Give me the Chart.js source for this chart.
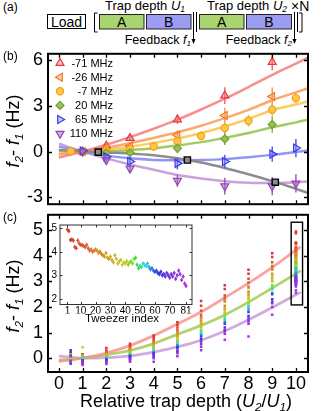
<!DOCTYPE html>
<html><head><meta charset="utf-8">
<script src="https://cdn.jsdelivr.net/npm/chart.js@4/dist/chart.umd.min.js"></script>
<style>
html,body{margin:0;padding:0;background:#fff;}
#wrap{position:relative;width:327px;height:411px;overflow:hidden;font-family:"Liberation Sans",Arial,Helvetica,sans-serif;color:#000;}
canvas{position:absolute;}
.lbl{position:absolute;white-space:nowrap;line-height:1;}
.rot{position:absolute;white-space:nowrap;line-height:1;transform:translate(-50%,-50%) rotate(-90deg);}
sub{font-size:65%;vertical-align:baseline;position:relative;top:0.3em;line-height:0;}
</style></head><body>
<div id="wrap">
<svg width="327" height="50" style="position:absolute;left:0;top:0" font-family="Liberation Sans, Arial, sans-serif">
  <text x="3" y="11" font-size="12">(a)</text>
  <rect x="47.5" y="14.5" width="38" height="14" fill="#fff" stroke="#000" stroke-width="1"/>
  <text x="66.5" y="26.5" font-size="14" text-anchor="middle">Load</text>
  <path d="M97.5 13 H94.5 V32 H97.5" fill="none" stroke="#000" stroke-width="1"/>
  <rect x="99.5" y="14.5" width="44.5" height="14.5" fill="#a9d46f" stroke="#222" stroke-width="1"/>
  <text x="121.7" y="26.5" font-size="14" text-anchor="middle">A</text>
  <rect x="146.5" y="14.5" width="44.5" height="14.5" fill="#9c9cf3" stroke="#222" stroke-width="1"/>
  <text x="168.7" y="26.5" font-size="14" text-anchor="middle">B</text>
  <line x1="193.5" y1="12" x2="193.5" y2="40" stroke="#000" stroke-width="1"/>
  <polygon points="191.5,39 195.5,39 193.5,44" fill="#000"/>
  <line x1="196.5" y1="12" x2="196.5" y2="32" stroke="#000" stroke-width="1"/>
  <rect x="199.5" y="14.5" width="44.5" height="14.5" fill="#a9d46f" stroke="#222" stroke-width="1"/>
  <text x="221.7" y="26.5" font-size="14" text-anchor="middle">A</text>
  <rect x="246.5" y="14.5" width="45" height="14.5" fill="#9c9cf3" stroke="#222" stroke-width="1"/>
  <text x="269" y="26.5" font-size="14" text-anchor="middle">B</text>
  <line x1="294.5" y1="12" x2="294.5" y2="40" stroke="#000" stroke-width="1"/>
  <polygon points="292.5,39 296.5,39 294.5,44" fill="#000"/>
  <line x1="297.5" y1="12" x2="297.5" y2="32" stroke="#000" stroke-width="1"/>
  <path d="M299 13 H302 V32 H299" fill="none" stroke="#000" stroke-width="1"/>
  <text x="145" y="10" font-size="13" text-anchor="middle">Trap depth <tspan font-style="italic">U</tspan><tspan font-size="8.5" dy="2" font-style="italic">1</tspan></text>
  <text x="247" y="10" font-size="13" text-anchor="middle">Trap depth <tspan font-style="italic">U</tspan><tspan font-size="8.5" dy="2" font-style="italic">2</tspan></text>
  <text x="291" y="11" font-size="14">×N</text>
  <text x="191" y="44" font-size="12.5" text-anchor="end">Feedback <tspan font-style="italic">f</tspan><tspan font-size="8" dy="2" font-style="italic">1</tspan></text>
  <text x="292" y="44" font-size="12.5" text-anchor="end">Feedback <tspan font-style="italic">f</tspan><tspan font-size="8" dy="2" font-style="italic">2</tspan></text>
</svg>
<canvas id="chartB" width="327" height="182" style="left:0;top:38px"></canvas>
<canvas id="chartC" width="327" height="212" style="left:0;top:199px"></canvas>
<canvas id="chartI" width="162" height="110" style="left:36px;top:216px"></canvas>
<div class="lbl" style="left:3px;top:50px;font-size:12px">(b)</div>
<div class="lbl" style="left:3px;top:211px;font-size:12px">(c)</div>
<div class="rot" style="left:13px;top:131px;font-size:18px"><i>f</i><sub><i>2</i></sub>- <i>f</i><sub><i>1</i></sub> (Hz)</div>
<div class="rot" style="left:13px;top:296px;font-size:18px"><i>f</i><sub><i>2</i></sub>- <i>f</i><sub><i>1</i></sub> (Hz)</div>
<div class="lbl" style="left:186px;top:392px;transform:translateX(-50%);font-size:18px">Relative trap depth (<i>U</i><sub><i>2</i></sub>/<i>U</i><sub><i>1</i></sub>)</div>
<div class="lbl" style="left:122px;top:313px;transform:translateX(-50%);font-size:11.5px">Tweezer index</div>
</div>
<script>
const FONT = "'Liberation Sans', Arial, Helvetica, sans-serif";

// ---------- Panel (b) data ----------
const bLegend = ['-71 MHz','-26 MHz','-7 MHz','20 MHz','65 MHz','110 MHz'];
const bX_red = [1,2,3,5,7,9];
const bY_red = [0,0.37,0.89,2.11,3.69,5.9];
const bE_red = [0.08,0.15,0.2,0.3,0.55,0.55];
const bX_orange = [1,2,3,5,7,9];
const bY_orange = [0,0.27,0.37,1.08,2.38,3.62];
const bE_orange = [0.08,0.15,0.2,0.3,0.5,0.6];
const bX_yellow = [0.5,1,2,3,4,5,6,7,8,9,10];
const bY_yellow = [0.02,0,0.06,0.17,0.33,0.68,1.03,1.55,2.03,2.75,3.52];
const bE_yellow = [0.08,0.08,0.12,0.15,0.2,0.25,0.3,0.4,0.4,0.4,0.35];
const bX_green = [1,2,3,5,7,9];
const bY_green = [0,-0.08,-0.08,0.21,0.83,1.78];
const bE_green = [0.08,0.15,0.2,0.3,0.4,0.55];
const bX_blue = [1,2,3,5,7,9,10];
const bY_blue = [0.03,-0.35,-0.66,-0.78,-0.66,-0.17,0.23];
const bE_blue = [0.08,0.2,0.3,0.4,0.45,0.5,0.6];
const bX_purple = [1,2,3,5,7,9,10];
const bY_purple = [0,-0.56,-1.12,-1.92,-2.28,-2.28,-2.1];
const bE_purple = [0.08,0.2,0.3,0.4,0.55,0.6,0.6];

const bFitX = [0,1,2,3,4,5,6,7,8,9,10,10.5];
const bFit_red    = [-0.39,0,0.45,0.95,1.5,2.1,2.77,3.48,4.25,5.05,5.8,6.18];
const bFit_orange = [-0.2,0,0.25,0.55,0.9,1.27,1.7,2.2,2.75,3.38,3.9,4.16];
const bFit_yellow = [-0.1,0,0.12,0.32,0.57,0.85,1.22,1.65,2.15,2.72,3.1,3.3];
const bFit_green  = [0,0,0.02,0.1,0.22,0.4,0.62,0.9,1.22,1.6,1.92,2.1];
const bFit_blue   = [0.33,0,-0.27,-0.45,-0.55,-0.58,-0.56,-0.5,-0.38,-0.22,-0.03,0.07];
const bFit_purple = [0.52,0,-0.45,-0.85,-1.2,-1.55,-1.78,-1.95,-2.05,-2.07,-2.02,-1.98];
const bFit_grey   = [0.1,0.02,-0.06,-0.13,-0.25,-0.44,-0.72,-1.08,-1.5,-1.95,-2.45,-2.73];
const bSqX = [1.66,5.42,9.13];
const bSqY = [-0.04,-0.56,-2.02];
const bXTicks = [0,1,2,3,4,5,6,7,8,9,10];
const bYTicks = [-3,0,3,6];

// ---------- Panel (c) data ----------
const cXTicks = [0,1,2,3,4,5,6,7,8,9,10];
const cYTicks = [0,1,2,3,4,5];
// sampled tweezers (index) for columns U2/U1 = 0.5 ... 9
const cSampleIdx = [1,5,9,13,17,21,25,29,33,37,41,45,49,53,57,61,65,69,73,77,81];
const cColX = [0.5,1,2,3,4,5,6,7,8,9];
const cCol_0_5 = [0.2,0.1,0.05,-0.05,0.0,0.1,-0.1,0.05,-0.05,0.0,0.15,-0.1,0.05,-0.15,-0.22,-0.2,0.25,0.31,0.1,-0.1,-0.15];
const cCol_1 = [0.15,0.1,0.05,0.08,0.0,0.05,0.02,-0.02,0.0,0.43,-0.05,0.1,-0.05,0.0,-0.1,-0.08,-0.15,-0.2,-0.1,-0.22,-0.27];
const cCol_2 = [0.4,0.3,0.25,0.22,0.2,0.15,0.15,0.1,0.12,0.08,0.05,0.05,0.02,0.0,-0.02,-0.05,-0.08,-0.1,-0.15,-0.18,-0.23];
const cCol_3 = [0.56,0.5,0.45,0.4,0.35,0.35,0.3,0.25,0.28,0.22,0.2,0.18,0.12,0.15,0.1,0.08,0.05,0.0,-0.03,-0.08,-0.14];
const cCol_4 = [0.88,0.8,0.72,0.65,0.6,0.58,0.5,0.45,0.48,0.4,0.38,0.33,0.28,0.3,0.22,0.2,0.15,0.1,0.05,0.0,-0.14];
const cCol_5 = [1.4,1.3,1.2,1.1,1.05,1.0,0.9,0.85,0.85,0.75,0.7,0.65,0.55,0.6,0.5,0.45,0.4,0.3,0.25,0.2,0.08];
const cCol_6 = [2.23,2.05,1.85,1.7,1.6,1.55,1.45,1.35,1.4,1.25,1.2,1.1,1.0,1.0,0.9,0.85,0.75,0.65,0.55,0.45,0.31];
const cCol_7 = [2.85,2.7,2.45,2.35,2.25,2.2,2.05,1.9,1.95,1.8,1.75,1.65,1.5,1.55,1.4,1.35,1.2,1.1,1.05,0.95,0.72];
const cCol_8 = [3.45,3.3,3.1,2.95,2.8,2.75,2.6,2.45,2.5,2.35,2.3,2.15,2.0,2.05,1.9,1.8,1.65,1.55,1.45,1.35,0.85];
const cCol_9 = [4.1,3.95,3.75,3.6,3.5,3.45,3.3,3.15,3.25,3.05,3.0,2.85,2.7,2.75,2.55,2.5,2.3,2.2,2.15,2.0,1.7];
const cColumns = [cCol_0_5,cCol_1,cCol_2,cCol_3,cCol_4,cCol_5,cCol_6,cCol_7,cCol_8,cCol_9];
// all 81 tweezers at U2/U1 = 10 (also the inset)
const cFullX = 10;
const insetValues = [4.95,4.88,4.5,4.52,4.48,4.2,4.15,4.48,4.35,4.3,
  4.28,4.25,4.2,4.3,4.15,4.05,4.1,4.0,4.05,4.1,
  4.05,3.95,4.0,3.9,3.85,3.8,3.95,3.75,3.7,3.8,
  3.65,3.55,3.85,3.7,3.5,3.6,3.65,3.45,3.55,3.5,
  3.6,3.45,3.55,3.6,3.5,3.7,3.75,3.45,3.3,3.4,
  3.35,3.5,3.45,3.4,3.5,3.35,3.25,3.3,3.2,3.15,
  3.2,3.1,3.05,3.15,3.0,3.05,2.95,3.1,3.0,2.9,
  3.05,2.95,3.1,2.85,3.0,3.2,3.05,2.8,2.95,2.65,2.55];
const insetErr = 0.09;
const insetXTicks = [1,10,20,30,40,50,60,70,81];
const insetYTicks = [2,3,4,5];

const cFitX = [0,1,2,3,4,5,6,7,8,9,10,10.2];
const cFit_red    = [-0.13,0,0.2,0.49,0.88,1.33,1.8,2.36,2.93,3.55,4.22,4.35];
const cFit_green  = [-0.08,0,0.13,0.3,0.57,0.93,1.28,1.69,2.19,2.74,3.3,3.42];
const cFit_purple = [0.08,0,0.02,0.09,0.24,0.44,0.7,1.06,1.5,1.98,2.48,2.58];
const cBoxX = [9.8,10.28];
const cBoxY = [2.08,5.31];

// ---------- helpers ----------
const pts = (xs, ys) => xs.map((x,i)=>({x, y: ys[i]}));
const hueStops = [[1,0],[10,10],[20,30],[30,48],[40,62],[46,100],[51,160],[56,200],[61,232],[68,258],[81,285]];
function tColor(i){
  let h = 285;
  for (let k=0;k<hueStops.length-1;k++){
    const [a,ha] = hueStops[k], [b,hb] = hueStops[k+1];
    if (i>=a && i<=b){ h = ha + (hb-ha)*(i-a)/(b-a); break; }
  }
  const l = (h>35 && h<85) ? 47 : 53;
  return 'hsl(' + h.toFixed(0) + ',70%,' + l + '%)';
}
function drawMarker(ctx, style, rot, r, x, y){
  const rad = rot*Math.PI/180;
  ctx.beginPath();
  if (style==='circle'){ ctx.arc(x,y,r,0,2*Math.PI); }
  else if (style==='triangle'){
    let a = rad;
    ctx.moveTo(x+Math.sin(a)*r, y-Math.cos(a)*r);
    a += 2*Math.PI/3; ctx.lineTo(x+Math.sin(a)*r, y-Math.cos(a)*r);
    a += 2*Math.PI/3; ctx.lineTo(x+Math.sin(a)*r, y-Math.cos(a)*r);
    ctx.closePath();
  } else if (style==='rectRot'){
    ctx.moveTo(x, y-r); ctx.lineTo(x+r, y); ctx.lineTo(x, y+r); ctx.lineTo(x-r, y); ctx.closePath();
  }
  ctx.fill(); ctx.stroke();
}
function framePlugin(xt, yt, lw, tl, tw, color){
  return { id:'frame', afterDraw(chart){
    const {ctx, chartArea:a, scales:{x,y}} = chart;
    ctx.save();
    ctx.strokeStyle = color; ctx.lineWidth = tw;
    ctx.beginPath();
    xt.forEach(v=>{ const p = Math.round(x.getPixelForValue(v))+0.5;
      ctx.moveTo(p,a.bottom); ctx.lineTo(p,a.bottom-tl); ctx.moveTo(p,a.top); ctx.lineTo(p,a.top+tl); });
    yt.forEach(v=>{ const p = Math.round(y.getPixelForValue(v))+0.5;
      ctx.moveTo(a.left,p); ctx.lineTo(a.left+tl,p); ctx.moveTo(a.right,p); ctx.lineTo(a.right-tl,p); });
    ctx.stroke();
    ctx.lineWidth = lw;
    ctx.strokeRect(a.left, a.top, a.right-a.left, a.bottom-a.top);
    ctx.restore();
  }};
}
const errorBarPlugin = { id:'errbars', beforeDatasetDraw(chart, args){
  const ds = chart.data.datasets[args.index];
  if (!ds.errors) return;
  const {ctx, chartArea:a, scales:{x,y}} = chart;
  ctx.save();
  ctx.beginPath(); ctx.rect(a.left,a.top,a.right-a.left,a.bottom-a.top); ctx.clip();
  ctx.lineWidth = ds.errWidth || 1.5;
  ds.data.forEach((p,i)=>{
    const e = Array.isArray(ds.errors) ? ds.errors[i] : ds.errors;
    ctx.strokeStyle = Array.isArray(ds.errColor) ? ds.errColor[i] : ds.errColor;
    const px = x.getPixelForValue(p.x);
    ctx.beginPath();
    ctx.moveTo(px, y.getPixelForValue(p.y-e)); ctx.lineTo(px, y.getPixelForValue(p.y+e));
    ctx.stroke();
  });
  ctx.restore();
}};

// series styles (b)
const bStyle = [
  {x:bX_red,    y:bY_red,    e:bE_red,    fit:bFit_red,    ps:'triangle', rot:0,   r:4.6, fill:'rgba(242,120,120,0.45)', line:'#e8383f', err:'#ee6a6a', fitc:'rgba(245,125,125,0.85)'},
  {x:bX_orange, y:bY_orange, e:bE_orange, fit:bFit_orange, ps:'triangle', rot:-90, r:4.6, fill:'rgba(247,168,100,0.55)', line:'#f07a2a', err:'#f39a55', fitc:'rgba(250,160,95,0.9)'},
  {x:bX_yellow, y:bY_yellow, e:bE_yellow, fit:bFit_yellow, ps:'circle',   rot:0,   r:3.6, fill:'rgba(255,198,74,0.95)', line:'#f2a012', err:'#f7b640', fitc:'rgba(255,200,85,0.95)'},
  {x:bX_green,  y:bY_green,  e:bE_green,  fit:bFit_green,  ps:'rectRot',  rot:0,   r:4.0, fill:'rgba(150,190,85,0.95)', line:'#73a034', err:'#8ab450', fitc:'rgba(155,200,85,0.95)'},
  {x:bX_blue,   y:bY_blue,   e:bE_blue,   fit:bFit_blue,   ps:'triangle', rot:90,  r:4.6, fill:'rgba(130,130,245,0.45)', line:'#3a3ae6', err:'#5a5af0', fitc:'rgba(135,137,242,0.9)'},
  {x:bX_purple, y:bY_purple, e:bE_purple, fit:bFit_purple, ps:'triangle', rot:180, r:4.6, fill:'rgba(170,110,200,0.55)', line:'#9146b0', err:'#9f5cbd', fitc:'rgba(200,150,215,0.9)'}
];
const bDatasets = [];
bStyle.forEach(s=>{
  bDatasets.push({data: pts(bFitX, s.fit), showLine:true, pointRadius:0, borderColor:s.fitc, borderWidth:2.5, cubicInterpolationMode:'monotone', order:10});
});
bDatasets.push({data: pts(bFitX, bFit_grey), showLine:true, pointRadius:0, borderColor:'rgba(135,135,135,0.95)', borderWidth:2.5, cubicInterpolationMode:'monotone', order:9});
bStyle.forEach((s,k)=>{
  bDatasets.push({data: pts(s.x, s.y), errors:s.e, errColor:s.err, errWidth:1.5, pointStyle:s.ps, pointRotation:s.rot, pointRadius:s.r,
    backgroundColor:s.fill, borderColor:s.line, borderWidth:1.2, showLine:false, order:6-k});
});
bDatasets.push({data: pts(bSqX, bSqY), pointStyle:'rect', pointRadius:4.4, backgroundColor:'#8c8c8c', borderColor:'#000', borderWidth:1.4, showLine:false, order:0});

const legendB = { id:'legendB', afterDatasetsDraw(chart){
  const {ctx, chartArea:a} = chart;
  ctx.save();
  ctx.font = '11px ' + FONT; ctx.textAlign = 'right'; ctx.textBaseline = 'middle'; ctx.fillStyle = '#000';
  bLegend.forEach((t,i)=>{
    const s = bStyle[i];
    const yy = a.top + 9.3 + i*14.1;
    ctx.fillStyle = s.fill; ctx.strokeStyle = s.line; ctx.lineWidth = 1.2;
    drawMarker(ctx, s.ps, s.rot, s.r, a.left + 12, yy);
    ctx.fillStyle = '#000';
    ctx.fillText(t, a.left + 65, yy + 0.5);
  });
  ctx.restore();
}};

const tickFont = {size:18, family:FONT};
new Chart(document.getElementById('chartB'), {
  type:'scatter',
  data:{datasets: bDatasets},
  options:{
    responsive:false, animation:false, events:[], devicePixelRatio:1,
    layout:{padding:{top:12, right:19, bottom:11.5, left:0}},
    plugins:{legend:{display:false}, tooltip:{enabled:false}},
    scales:{
      x:{type:'linear', min:-0.46, max:10.51, grid:{display:false, drawTicks:false}, border:{display:false},
         ticks:{display:false}, afterBuildTicks(s){ s.ticks = bXTicks.map(v=>({value:v})); }, afterFit(s){ s.height = 0; }},
      y:{type:'linear', min:-3.47, max:6.44, grid:{display:false, drawTicks:false}, border:{display:false},
         ticks:{font:tickFont, color:'#000', padding:5}, afterBuildTicks(s){ s.ticks = bYTicks.map(v=>({value:v})); }, afterFit(s){ s.width = 48; }}
    }
  },
  plugins:[errorBarPlugin, legendB, framePlugin(bXTicks, bYTicks, 2, 4, 1.3, '#000')]
});

// ---------- Chart (c) ----------
const cDatasets = [];
cColumns.forEach((col, k)=>{
  cDatasets.push({data: col.map(v=>({x:cColX[k], y:v})), pointStyle:'rect', pointRadius:1.8, borderWidth:0,
    backgroundColor: cSampleIdx.map(i=>tColor(i)), showLine:false, order:1});
});
cDatasets.push({data: insetValues.map(v=>({x:cFullX, y:v})), pointStyle:'rect', pointRadius:1.8, borderWidth:0,
  backgroundColor: insetValues.map((v,i)=>tColor(i+1)), showLine:false, order:1});
[[cFit_red,'rgba(247,140,140,0.8)'],[cFit_green,'rgba(160,205,80,0.85)'],[cFit_purple,'rgba(200,155,220,0.85)']].forEach(([f,c])=>{
  cDatasets.push({data: pts(cFitX, f), showLine:true, pointRadius:0, borderColor:c, borderWidth:2.8, cubicInterpolationMode:'monotone', order:5});
});
const boxPlugin = { id:'box', afterDatasetsDraw(chart){
  const {ctx, scales:{x,y}} = chart;
  const x0 = x.getPixelForValue(cBoxX[0]), x1 = x.getPixelForValue(cBoxX[1]);
  const y0 = y.getPixelForValue(cBoxY[1]), y1 = y.getPixelForValue(cBoxY[0]);
  ctx.save(); ctx.strokeStyle = '#000'; ctx.lineWidth = 1.4;
  ctx.strokeRect(x0, y0, x1-x0, y1-y0); ctx.restore();
}};
new Chart(document.getElementById('chartC'), {
  type:'scatter',
  data:{datasets: cDatasets},
  options:{
    responsive:false, animation:false, events:[], devicePixelRatio:1,
    layout:{padding:{top:13.5, right:19, bottom:19, left:0}},
    plugins:{legend:{display:false}, tooltip:{enabled:false}},
    scales:{
      x:{type:'linear', min:-0.46, max:10.51, grid:{display:false, drawTicks:false}, border:{display:false},
         ticks:{font:tickFont, color:'#000', padding:1, maxRotation:0, autoSkip:false},
         afterBuildTicks(s){ s.ticks = cXTicks.map(v=>({value:v})); }, afterFit(s){ s.height = 20; }},
      y:{type:'linear', min:-0.54, max:5.6, grid:{display:false, drawTicks:false}, border:{display:false},
         ticks:{font:tickFont, color:'#000', padding:5}, afterBuildTicks(s){ s.ticks = cYTicks.map(v=>({value:v})); }, afterFit(s){ s.width = 48; }}
    }
  },
  plugins:[boxPlugin, framePlugin(cXTicks, cYTicks, 2, 4, 1.3, '#000')]
});

// ---------- Inset ----------
const whiteBg = { id:'whitebg', beforeDraw(chart){
  const {ctx, chartArea:a} = chart; ctx.save(); ctx.fillStyle = '#fff';
  ctx.fillRect(a.left, a.top, a.right-a.left, a.bottom-a.top); ctx.restore(); }};
const insetColors = insetValues.map((v,i)=>tColor(i+1));
new Chart(document.getElementById('chartI'), {
  type:'scatter',
  data:{datasets:[{data: insetValues.map((v,i)=>({x:i+1, y:v})), errors:insetErr, errColor:insetColors, errWidth:1,
    pointStyle:'rectRot', pointRadius:1.8, borderWidth:0, backgroundColor:insetColors, showLine:false}]},
  options:{
    responsive:false, animation:false, events:[], devicePixelRatio:1,
    layout:{padding:{top:6, right:6, bottom:12.5, left:0}},
    plugins:{legend:{display:false}, tooltip:{enabled:false}},
    scales:{
      x:{type:'linear', min:-4, max:85, grid:{display:false, drawTicks:false}, border:{display:false},
         ticks:{font:{size:10, family:FONT}, color:'#000', padding:1, maxRotation:0, autoSkip:false},
         afterBuildTicks(s){ s.ticks = insetXTicks.map(v=>({value:v})); }, afterFit(s){ s.height = 9; }},
      y:{type:'linear', min:1.76, max:5.14, grid:{display:false, drawTicks:false}, border:{display:false},
         ticks:{font:{size:10, family:FONT}, color:'#000', padding:3},
         afterBuildTicks(s){ s.ticks = insetYTicks.map(v=>({value:v})); }, afterFit(s){ s.width = 24; }}
    }
  },
  plugins:[whiteBg, errorBarPlugin, framePlugin(insetXTicks, insetYTicks, 1, 2.5, 1, '#333')]
});
</script>
</body></html>
